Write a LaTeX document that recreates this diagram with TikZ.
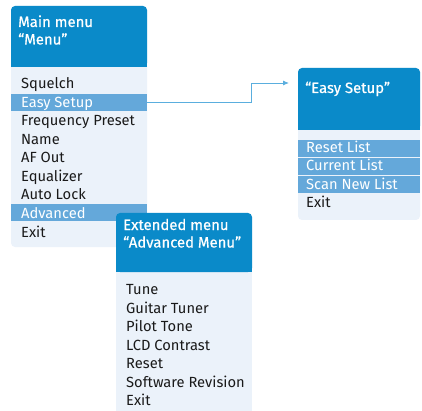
\documentclass[tikz,border=0pt]{standalone}
\usepackage{fontspec}
\setmainfont{Fira Sans}
\newfontfamily\hdrfont[FakeBold=0.6]{Fira Sans}
\usetikzlibrary{arrows.meta}
\definecolor{hdrblue}{HTML}{0A8AC9}
\definecolor{hlblue}{HTML}{64A8DA}
\definecolor{bodyblue}{HTML}{EBF2FA}
\definecolor{arrblue}{HTML}{5AAEDE}
\definecolor{txtdark}{HTML}{1A1A1A}
\tikzset{
  hdrfill/.style={fill=hdrblue},
  bodyfill/.style={fill=bodyblue},
  hlrow/.style={fill=hlblue, inner sep=0pt, outer sep=0pt, anchor=north west, minimum height=17pt},
  item/.style={anchor=base west, inner sep=0pt, font=\fontsize{14.7}{16}\selectfont, text=txtdark},
  hlitem/.style={item, text=white},
  hdrtext/.style={anchor=base west, inner sep=0pt, font=\hdrfont\fontsize{14.9}{16}\selectfont, text=white},
  conn/.style={draw=arrblue, line width=0.9pt, -{Latex[length=6pt,width=5pt]}},
}
\begin{document}
\begin{tikzpicture}[x=1pt,y=-1pt]
\useasboundingbox (0,0) rectangle (422,411);
% ---- Main menu
\fill[bodyfill, rounded corners=4pt] (11,6) rectangle (147,247);
\fill[hdrfill, rounded corners=4pt] (11,6) rectangle (147,67);
\fill[hdrfill] (11,55) rectangle (147,67);
\node[hdrtext] (mh1) at (18,27) {Main menu};
\node[hdrtext] (mh2) at (18,44.5) {“Menu”};
\node[hlrow, minimum width=136pt] (mEasyRow) at (11,94) {};
\node[hlrow, minimum width=136pt] (mAdvRow) at (11,204.5) {};
\node[item] (m1) at (21,89) {Squelch};
\node[hlitem] (m2) at (21,107.5) {Easy Setup};
\node[item] (m3) at (21,126) {Frequency Preset};
\node[item] (m4) at (21,144.5) {Name};
\node[item] (m5) at (21,163) {AF Out};
\node[item] (m6) at (21,181.5) {Equalizer};
\node[item] (m7) at (21,200) {Auto Lock};
\node[hlitem] (m8) at (21,218.5) {Advanced};
\node[item] (m9) at (21,237) {Exit};
% ---- Easy Setup menu
\fill[bodyfill, rounded corners=4pt] (298,68) rectangle (420,220);
\fill[hdrfill, rounded corners=4pt] (298,68) rectangle (420,130);
\fill[hdrfill] (298,118) rectangle (420,130);
\node[hdrtext] (eh1) at (305,93) {“Easy Setup”};
\node[hlrow, minimum width=122pt, minimum height=16.5pt] (eRow1) at (298,140.5) {};
\node[hlrow, minimum width=122pt, minimum height=17.5pt] (eRow2) at (298,158) {};
\node[hlrow, minimum width=122pt, minimum height=16.5pt] (eRow3) at (298,176.5) {};
\node[hlitem] (e1) at (306,152.5) {Reset List};
\node[hlitem] (e2) at (306,171) {Current List};
\node[hlitem] (e3) at (306,189.5) {Scan New List};
\node[item] (e4) at (306,208) {Exit};
\coordinate (eIn) at (289,83);
% ---- connector
\draw[conn] (mEasyRow.east) -| (251,83) -- (eIn);
% ---- Extended menu
\fill[bodyfill] (116,240) rectangle (252,411);
\fill[hdrfill, rounded corners=4pt] (116,213) rectangle (252,272);
\fill[hdrfill] (116,260) rectangle (252,272);
\node[hdrtext] (xh1) at (123,230) {Extended menu};
\node[hdrtext] (xh2) at (123,247.5) {“Advanced Menu”};
\node[item] (x1) at (126,294.5) {Tune};
\node[item] (x2) at (126,313) {Guitar Tuner};
\node[item] (x3) at (126,331.5) {Pilot Tone};
\node[item] (x4) at (126,350) {LCD Contrast};
\node[item] (x5) at (126,368.5) {Reset};
\node[item] (x6) at (126,387) {Software Revision};
\node[item] (x7) at (126,405.5) {Exit};
\end{tikzpicture}
\end{document}
